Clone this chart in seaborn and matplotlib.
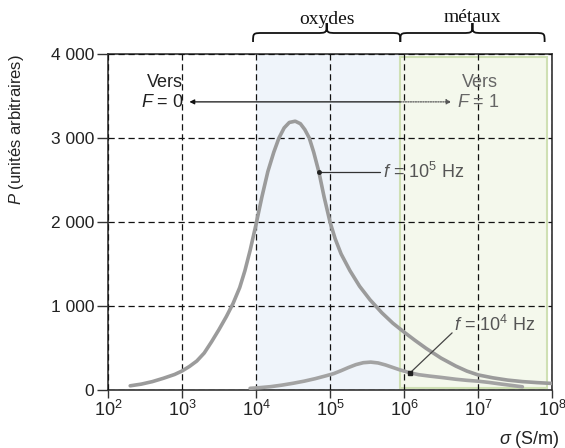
import numpy as np
import pandas as pd
import matplotlib
matplotlib.use("Agg")
import matplotlib.pyplot as plt
import seaborn as sns
from matplotlib.path import Path
from matplotlib.patches import PathPatch, Rectangle
from matplotlib.transforms import blended_transform_factory

# ---------------- data ----------------
log_sigma_f5 = [2.30, 2.45, 2.60, 2.75, 2.90, 3.00, 3.10, 3.20, 3.30, 3.40, 3.50, 3.60,
                3.69, 3.78, 3.85, 3.92, 4.00, 4.08, 4.16, 4.24, 4.31, 4.38, 4.45, 4.53,
                4.60, 4.66, 4.72, 4.78, 4.85, 4.92, 5.00, 5.07, 5.15, 5.27, 5.40, 5.54,
                5.70, 5.85, 6.00, 6.15, 6.30, 6.50, 6.70, 6.85, 7.00, 7.20, 7.40, 7.60,
                7.80, 8.00]
P_f5 = [50, 70, 100, 140, 185, 226, 280, 345, 440, 575, 720, 875,
        1030, 1220, 1420, 1660, 1970, 2300, 2600, 2830, 3000, 3120, 3185, 3200,
        3170, 3100, 3000, 2830, 2595, 2300, 2000, 1800, 1620, 1420, 1235, 1075,
        920, 795, 690, 590, 495, 380, 285, 225, 180, 145, 118, 100,
        88, 78]

log_sigma_f4 = [3.92, 4.05, 4.20, 4.35, 4.50, 4.65, 4.80, 4.95, 5.05, 5.15, 5.25, 5.35,
                5.45, 5.55, 5.65, 5.75, 5.85, 5.95, 6.08, 6.20, 6.35, 6.50, 6.70, 6.85,
                7.00, 7.15, 7.30, 7.45, 7.60]
P_f4 = [20, 28, 40, 58, 80, 105, 135, 170, 195, 230, 268, 302,
        325, 332, 322, 298, 268, 238, 205, 182, 165, 150, 128, 115,
        105, 90, 72, 55, 38]

series_labels = ["f = 1e5 Hz", "f = 1e4 Hz"]
y_ticks = [0, 1000, 2000, 3000, 4000]
y_tick_labels = ["0", "1 000", "2 000", "3 000", "4 000"]
x_ticks = [1e2, 1e3, 1e4, 1e5, 1e6, 1e7, 1e8]
x_tick_labels = [r"$10^{2}$", r"$10^{3}$", r"$10^{4}$", r"$10^{5}$",
                 r"$10^{6}$", r"$10^{7}$", r"$10^{8}$"]

df = pd.concat([
    pd.DataFrame({"sigma": np.power(10.0, log_sigma_f5), "P": P_f5, "serie": series_labels[0]}),
    pd.DataFrame({"sigma": np.power(10.0, log_sigma_f4), "P": P_f4, "serie": series_labels[1]}),
])

# ---------------- style ----------------
sns.set_theme(style="white")
plt.rcParams["font.family"] = ["Liberation Sans", "DejaVu Sans"]
plt.rcParams["mathtext.fontset"] = "custom"
plt.rcParams["mathtext.rm"] = "Liberation Sans"
plt.rcParams["mathtext.it"] = "Liberation Sans:italic"

fig = plt.figure(figsize=(5.65, 4.48), dpi=100)
ax = fig.add_axes([108 / 565, 58 / 448, 444 / 565, 336 / 448])

# shaded regions
ax.axvspan(1e4, 10**5.95, color="#eff4fa", zorder=0, lw=0)
green = Rectangle((10**5.95, 20), 10**7.93 - 10**5.95, 3950, facecolor="#f4f8ec",
                  edgecolor="#cfe0b4", lw=1.5, zorder=0.5)
ax.add_patch(green)

sns.lineplot(data=df, x="sigma", y="P", hue="serie", palette=["#9b9b9b", "#a3a3a3"],
             linewidth=2.6, legend=False, ax=ax, sort=True, zorder=3)

ax.set_xscale("log")
ax.set_xlim(1e2, 1e8)
ax.set_ylim(0, 4000)
ax.set_xticks(x_ticks)
ax.set_xticklabels(x_tick_labels, fontsize=13)
ax.minorticks_off()
ax.set_yticks(y_ticks)
ax.set_yticklabels(y_tick_labels, fontsize=12.5)
ax.tick_params(axis="y", direction="out", length=8, width=1.0, color="#333333", pad=2,
               left=True, labelcolor="#222222")
ax.tick_params(axis="x", direction="out", length=6, width=1.0, color="#333333", pad=1,
               bottom=True, labelcolor="#222222")
for s in ax.spines.values():
    s.set_color("#333333")
    s.set_linewidth(1.2)

ax.grid(True, which="major", color="#111111", linestyle=(0, (5, 3)), linewidth=0.9)
ax.set_axisbelow(False)
for gl in ax.get_xgridlines() + ax.get_ygridlines():
    gl.set_zorder(1)

ax.set_xlabel("")
ax.set_ylabel(r"$\mathit{P}$ (unités arbitraires)", fontsize=12, color="#222222")
ax.yaxis.set_label_coords(-0.185, 0.775)
fig.text(560 / 565, 1 - 439 / 448, r"$\mathit{\sigma}$ (S/m)", ha="right", va="center",
         fontsize=13, color="#222222")

# ---------------- annotations ----------------
ax.annotate("", xy=(10**3.10, 3430), xytext=(10**5.95, 3430),
            arrowprops=dict(arrowstyle="-|>", color="#111111", lw=0.9,
                            mutation_scale=7, shrinkA=0, shrinkB=0), zorder=5)
ax.annotate("", xy=(10**6.64, 3430), xytext=(10**5.95, 3430),
            arrowprops=dict(arrowstyle="-|>", color="#555555", lw=0.9, ls=(0, (1, 1)),
                            mutation_scale=7, shrinkA=0, shrinkB=0), zorder=5)
ax.text(10**2.77, 3660, "Vers", ha="center", va="center", fontsize=13, color="#222222")
ax.text(10**3.03, 3420, r"$\mathit{F}$ = 0", ha="right", va="center", fontsize=13,
        color="#222222")
ax.text(10**7.03, 3660, "Vers", ha="center", va="center", fontsize=13, color="#666666")
ax.text(10**6.72, 3420, r"$\mathit{F}$ = 1", ha="left", va="center", fontsize=13,
        color="#666666")

# f = 10^5 Hz
ax.plot([10**4.85, 10**5.67], [2595, 2595], color="#333333", lw=0.9, zorder=5)
ax.plot([10**4.85], [2595], marker="o", ms=2.5, color="#222222", zorder=6)
ax.text(10**5.72, 2595, r"$\mathit{f}$ = 10$^{5}$ Hz", ha="left", va="center",
        fontsize=13, color="#555555")

# f = 10^4 Hz
ax.plot([10**6.08, 10**6.65], [202, 680], color="#444444", lw=0.9, zorder=5)
ax.plot([10**6.08], [202], marker="s", ms=2.5, color="#222222", zorder=6)
ax.text(10**6.68, 780, r"$\mathit{f}$ = 10$^{4}$ Hz", ha="left", va="center",
        fontsize=13, color="#555555")

# ---------------- braces ----------------
tr = blended_transform_factory(ax.transData, ax.transAxes)


def brace(lx0, lx1, y_end, y_arm, y_tip, d=0.14):
    lm = 0.5 * (lx0 + lx1)
    p = lambda lx, y: (10**lx, y)
    verts = [p(lx0, y_end),
             p(lx0, y_arm), p(lx0, y_arm), p(lx0 + d, y_arm),
             p(lm - d, y_arm),
             p(lm, y_arm), p(lm, y_arm), p(lm, y_tip),
             p(lm, y_arm), p(lm, y_arm), p(lm + d, y_arm),
             p(lx1 - d, y_arm),
             p(lx1, y_arm), p(lx1, y_arm), p(lx1, y_end)]
    codes = [Path.MOVETO,
             Path.CURVE4, Path.CURVE4, Path.CURVE4,
             Path.LINETO,
             Path.CURVE4, Path.CURVE4, Path.CURVE4,
             Path.CURVE4, Path.CURVE4, Path.CURVE4,
             Path.LINETO,
             Path.CURVE4, Path.CURVE4, Path.CURVE4]
    patch = PathPatch(Path(verts, codes), transform=tr, fill=False, lw=1.3,
                      edgecolor="#111111", clip_on=False)
    ax.add_patch(patch)


y_end = 1 + 12 / 336
y_arm = 1 + 21 / 336
y_tip = 1 + 31 / 336
brace(3.96, 5.95, y_end, y_arm, y_tip)
brace(5.95, 7.90, y_end, y_arm, y_tip)
ax.text(10**4.96, 1 + 30 / 336, "oxydes", transform=tr, ha="center", va="baseline",
        fontsize=14, family=["Liberation Serif"], color="#111111")
ax.text(10**6.92, 1 + 32 / 336, "métaux", transform=tr, ha="center", va="baseline",
        fontsize=14, family=["Liberation Serif"], color="#111111")

fig.savefig("out.png", dpi=100, facecolor="white")
